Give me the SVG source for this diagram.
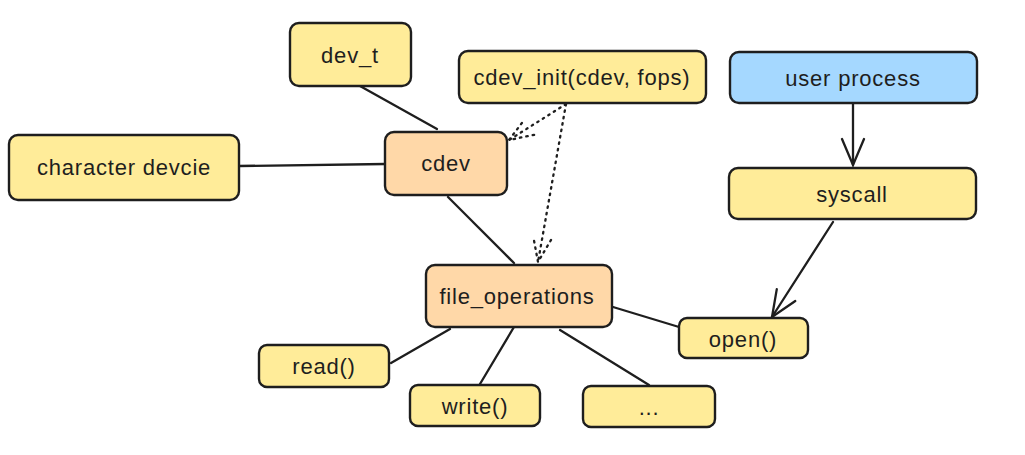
<svg xmlns="http://www.w3.org/2000/svg" width="1025" height="455" viewBox="0 0 1025 455">
<style>
.n rect{stroke:#1e1e1e;stroke-width:2.4;}
.y{fill:#ffec99;}
.o{fill:#ffd8a8;}
.b{fill:#a5d8ff;}
text{font-family:"Liberation Sans",Arial,sans-serif;font-size:22px;letter-spacing:0.8px;fill:#1e1e1e;text-anchor:middle;dominant-baseline:central;}
.c path{fill:none;stroke:#1e1e1e;stroke-width:2.3;stroke-linecap:round;}
.c path.d{stroke-dasharray:1.5 5;}
</style>
<defs>
<marker id="ah" viewBox="0 0 30 30" markerWidth="30" markerHeight="30" markerUnits="userSpaceOnUse" refX="28" refY="15" orient="auto">
<path d="M2,4 L28,15 L2,26" fill="none" stroke="#1e1e1e" stroke-width="2.3" stroke-linecap="round"/>
</marker>
<marker id="ahd" viewBox="0 0 30 30" markerWidth="30" markerHeight="30" markerUnits="userSpaceOnUse" refX="28" refY="15" orient="auto">
<path d="M4,6 L28,15 L4,24" fill="none" stroke="#1e1e1e" stroke-width="2.3" stroke-linecap="round" stroke-dasharray="1.5 5"/>
</marker>
</defs>
<rect width="1025" height="455" fill="#ffffff"/>
<g id="connectors" class="c">
<path d="M360,86 L437,129"/>
<path d="M239,166 L385,164"/>
<path d="M448,197 L514,263"/>
<path class="d" d="M566,104 L509,140" marker-end="url(#ahd)"/>
<path class="d" d="M566,104 L538,262" marker-end="url(#ahd)"/>
<path d="M853,103 L853,165" marker-end="url(#ah)"/>
<path d="M833,222 L772,317" marker-end="url(#ah)"/>
<path d="M613,307 L679,327"/>
<path d="M450,329 L391,363"/>
<path d="M514,327 L480,384"/>
<path d="M560,330 L649,385"/>
</g>
<g id="dev_t" class="n"><rect class="y" x="290" y="23" width="121" height="63" rx="9"/><text x="350" y="55">dev_t</text></g>
<g id="character_devcie" class="n"><rect class="y" x="9" y="135" width="230" height="65" rx="9"/><text x="124" y="167">character devcie</text></g>
<g id="cdev" class="n"><rect class="o" x="385" y="132" width="122" height="63" rx="9"/><text x="446" y="163">cdev</text></g>
<g id="cdev_init" class="n"><rect class="y" x="459" y="51" width="247" height="52" rx="9"/><text x="582" y="77">cdev_init(cdev, fops)</text></g>
<g id="user_process" class="n"><rect class="b" x="730" y="52" width="247" height="51" rx="9"/><text x="853" y="78">user process</text></g>
<g id="syscall" class="n"><rect class="y" x="729" y="168" width="247" height="51" rx="9"/><text x="852" y="194">syscall</text></g>
<g id="file_operations" class="n"><rect class="o" x="426" y="265" width="186" height="62" rx="9"/><text x="517" y="296">file_operations</text></g>
<g id="open" class="n"><rect class="y" x="679" y="318" width="129" height="40" rx="8"/><text x="743" y="339">open()</text></g>
<g id="read" class="n"><rect class="y" x="259" y="345" width="130" height="42" rx="8"/><text x="324" y="366">read()</text></g>
<g id="write" class="n"><rect class="y" x="410" y="385" width="130" height="41" rx="8"/><text x="475" y="406">write()</text></g>
<g id="more" class="n"><rect class="y" x="583" y="386" width="132" height="41" rx="8"/><text x="649" y="407">...</text></g>
</svg>
